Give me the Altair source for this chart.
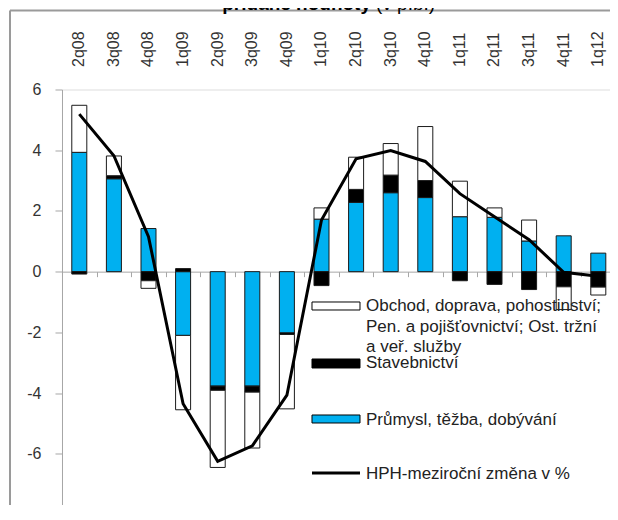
import altair as alt
import pandas as pd

# ---- data ----
cats = ["2q08", "3q08", "4q08", "1q09", "2q09", "3q09", "4q09", "1q10",
        "2q10", "3q10", "4q10", "1q11", "2q11", "3q11", "4q11", "1q12"]
prumysl = [3.93, 3.06, 1.42, -2.10, -3.77, -3.77, -2.02, 1.73,
           2.28, 2.60, 2.44, 1.81, 1.79, 1.01, 1.18, 0.61]
staveb = [-0.08, 0.10, -0.30, 0.10, -0.14, -0.20, -0.05, -0.46,
          0.43, 0.58, 0.56, -0.30, -0.42, -0.59, -0.50, -0.51]
sluzby = [1.55, 0.65, -0.25, -2.45, -2.54, -1.84, -2.45, 0.37,
          1.06, 1.04, 1.78, 1.17, 0.31, 0.69, -0.75, -0.26]
hph = [5.19, 3.82, 1.15, -4.35, -6.25, -5.74, -4.07, 1.70,
       3.72, 3.99, 3.63, 2.57, 1.81, 1.05, -0.02, -0.15]

series_names = ["Průmysl, těžba, dobývání", "Stavebnictví",
                "Obchod, doprava, pohostinství; Pen. a pojišťovnictví; Ost. tržní a veř. služby"]
series_colors = ["#00B0F0", "#000000", "#FFFFFF"]
legend_obchod = ["Obchod, doprava, pohostinství;", "Pen. a pojišťovnictví; Ost. tržní", "a veř. služby"]
legend_stav = "Stavebnictví"
legend_prum = "Průmysl, těžba, dobývání"
legend_hph = "HPH-meziroční změna v %"
title_bold = "přidané hodnoty"
title_norm = "(v p.b.)"
y_ticks = [-8, -6, -4, -2, 0, 2, 4, 6]

rows = []
for i, c in enumerate(cats):
    for k, (name, vals) in enumerate(zip(series_names, [prumysl, staveb, sluzby])):
        rows.append({"q": c, "serie": name, "v": vals[i], "ord": k})
bars_df = pd.DataFrame(rows)
line_df = pd.DataFrame({"q": cats, "hph": hph})

FONT = "Liberation Sans"
W, H = 553.6, 425
xscale = alt.Scale(domain=cats, paddingInner=0.566, paddingOuter=0.283)
yscale = alt.Scale(domain=[-8, 6], nice=False, zero=False)
GRAY = "#a6a6a6"
yaxis = alt.Axis(values=y_ticks, labelExpr="datum.value + ''", grid=False,
                 domainColor=GRAY, tickColor=GRAY, tickSize=7, labelPadding=14,
                 labelFontSize=16, labelFont=FONT, labelColor="#333333", title=None)

bars = alt.Chart(bars_df).mark_bar(stroke="#1a1a1a", strokeWidth=1).encode(
    x=alt.X("q:N", scale=xscale, sort=cats, title=None,
            axis=alt.Axis(orient="top", domain=False, ticks=False, labelAngle=270,
                          labelAlign="left", labelBaseline="middle", labelPadding=23,
                          labelFontSize=16, labelFont=FONT, labelColor="#333333",
                          labelOverlap=False)),
    y=alt.Y("v:Q", scale=yscale, axis=yaxis, stack="zero", title=None),
    color=alt.Color("serie:N", scale=alt.Scale(domain=series_names, range=series_colors), legend=None),
    order=alt.Order("ord:Q", sort="ascending"),
)

zero_off = -(H - H * 6 / 14)
line = alt.Chart(line_df).mark_line(color="black", strokeWidth=3).encode(
    x=alt.X("q:N", scale=xscale, sort=cats, title=None,
            axis=alt.Axis(orient="bottom", offset=zero_off, labels=False, tickSize=5,
                          tickOffset=-17.3, domainColor=GRAY, tickColor=GRAY)),
    y=alt.Y("hph:Q", scale=yscale, axis=yaxis, title=None),
)

one = alt.Data(values=[{}])
LX1, LX2, TX = 250, 298, 304
leg = [
    alt.Chart(one).mark_rect(fill="white", stroke="black", strokeWidth=1).encode(
        x=alt.value(LX1), x2=alt.value(LX2), y=alt.value(212.5), y2=alt.value(220.5)),
    alt.Chart(one).mark_text(align="left", baseline="middle", fontSize=17, font=FONT,
                             color="#222", lineHeight=20.5).encode(
        x=alt.value(TX), y=alt.value(217), text=alt.value(legend_obchod)),
    alt.Chart(one).mark_rect(fill="black", stroke="black", strokeWidth=1).encode(
        x=alt.value(LX1), x2=alt.value(LX2), y=alt.value(269.5), y2=alt.value(278.5)),
    alt.Chart(one).mark_text(align="left", baseline="middle", fontSize=17, font=FONT,
                             color="#222").encode(
        x=alt.value(TX), y=alt.value(274), text=alt.value(legend_stav)),
    alt.Chart(one).mark_rect(fill="#00B0F0", stroke="black", strokeWidth=1).encode(
        x=alt.value(LX1), x2=alt.value(LX2), y=alt.value(325.5), y2=alt.value(333.5)),
    alt.Chart(one).mark_text(align="left", baseline="middle", fontSize=17, font=FONT,
                             color="#222").encode(
        x=alt.value(TX), y=alt.value(330.5), text=alt.value(legend_prum)),
    alt.Chart(one).mark_rule(color="black", strokeWidth=3).encode(
        x=alt.value(LX1), x2=alt.value(LX2), y=alt.value(383.5)),
    alt.Chart(one).mark_text(align="left", baseline="middle", fontSize=17, font=FONT,
                             color="#222").encode(
        x=alt.value(TX), y=alt.value(385), text=alt.value(legend_hph)),
]

frame = [
    alt.Chart(one).mark_rule(color="#9a9a9a", strokeWidth=2).encode(
        x=alt.value(-52), y=alt.value(-79), y2=alt.value(460)),
    alt.Chart(one).mark_rule(color="#9a9a9a", strokeWidth=2).encode(
        x=alt.value(-52), x2=alt.value(600), y=alt.value(-79)),
    alt.Chart(one).mark_text(align="right", baseline="alphabetic", fontSize=19, font=FONT,
                             fontWeight="bold", color="black").encode(
        x=alt.value(309), y=alt.value(-80), text=alt.value(title_bold)),
    alt.Chart(one).mark_text(align="left", baseline="alphabetic", fontSize=19, font=FONT,
                             color="black").encode(
        x=alt.value(314), y=alt.value(-80), text=alt.value(title_norm)),
]

chart = alt.layer(bars, line, *leg, *frame).resolve_axis(x="independent").properties(
    width=W, height=H,
    autosize=alt.AutoSizeParams(type="none"),
    padding={"left": 54, "top": 81.5, "right": -6, "bottom": -10},
).configure_view(strokeWidth=0).configure(background="white")

chart.save("out.html", embed_options={"renderer": "svg", "actions": False})
